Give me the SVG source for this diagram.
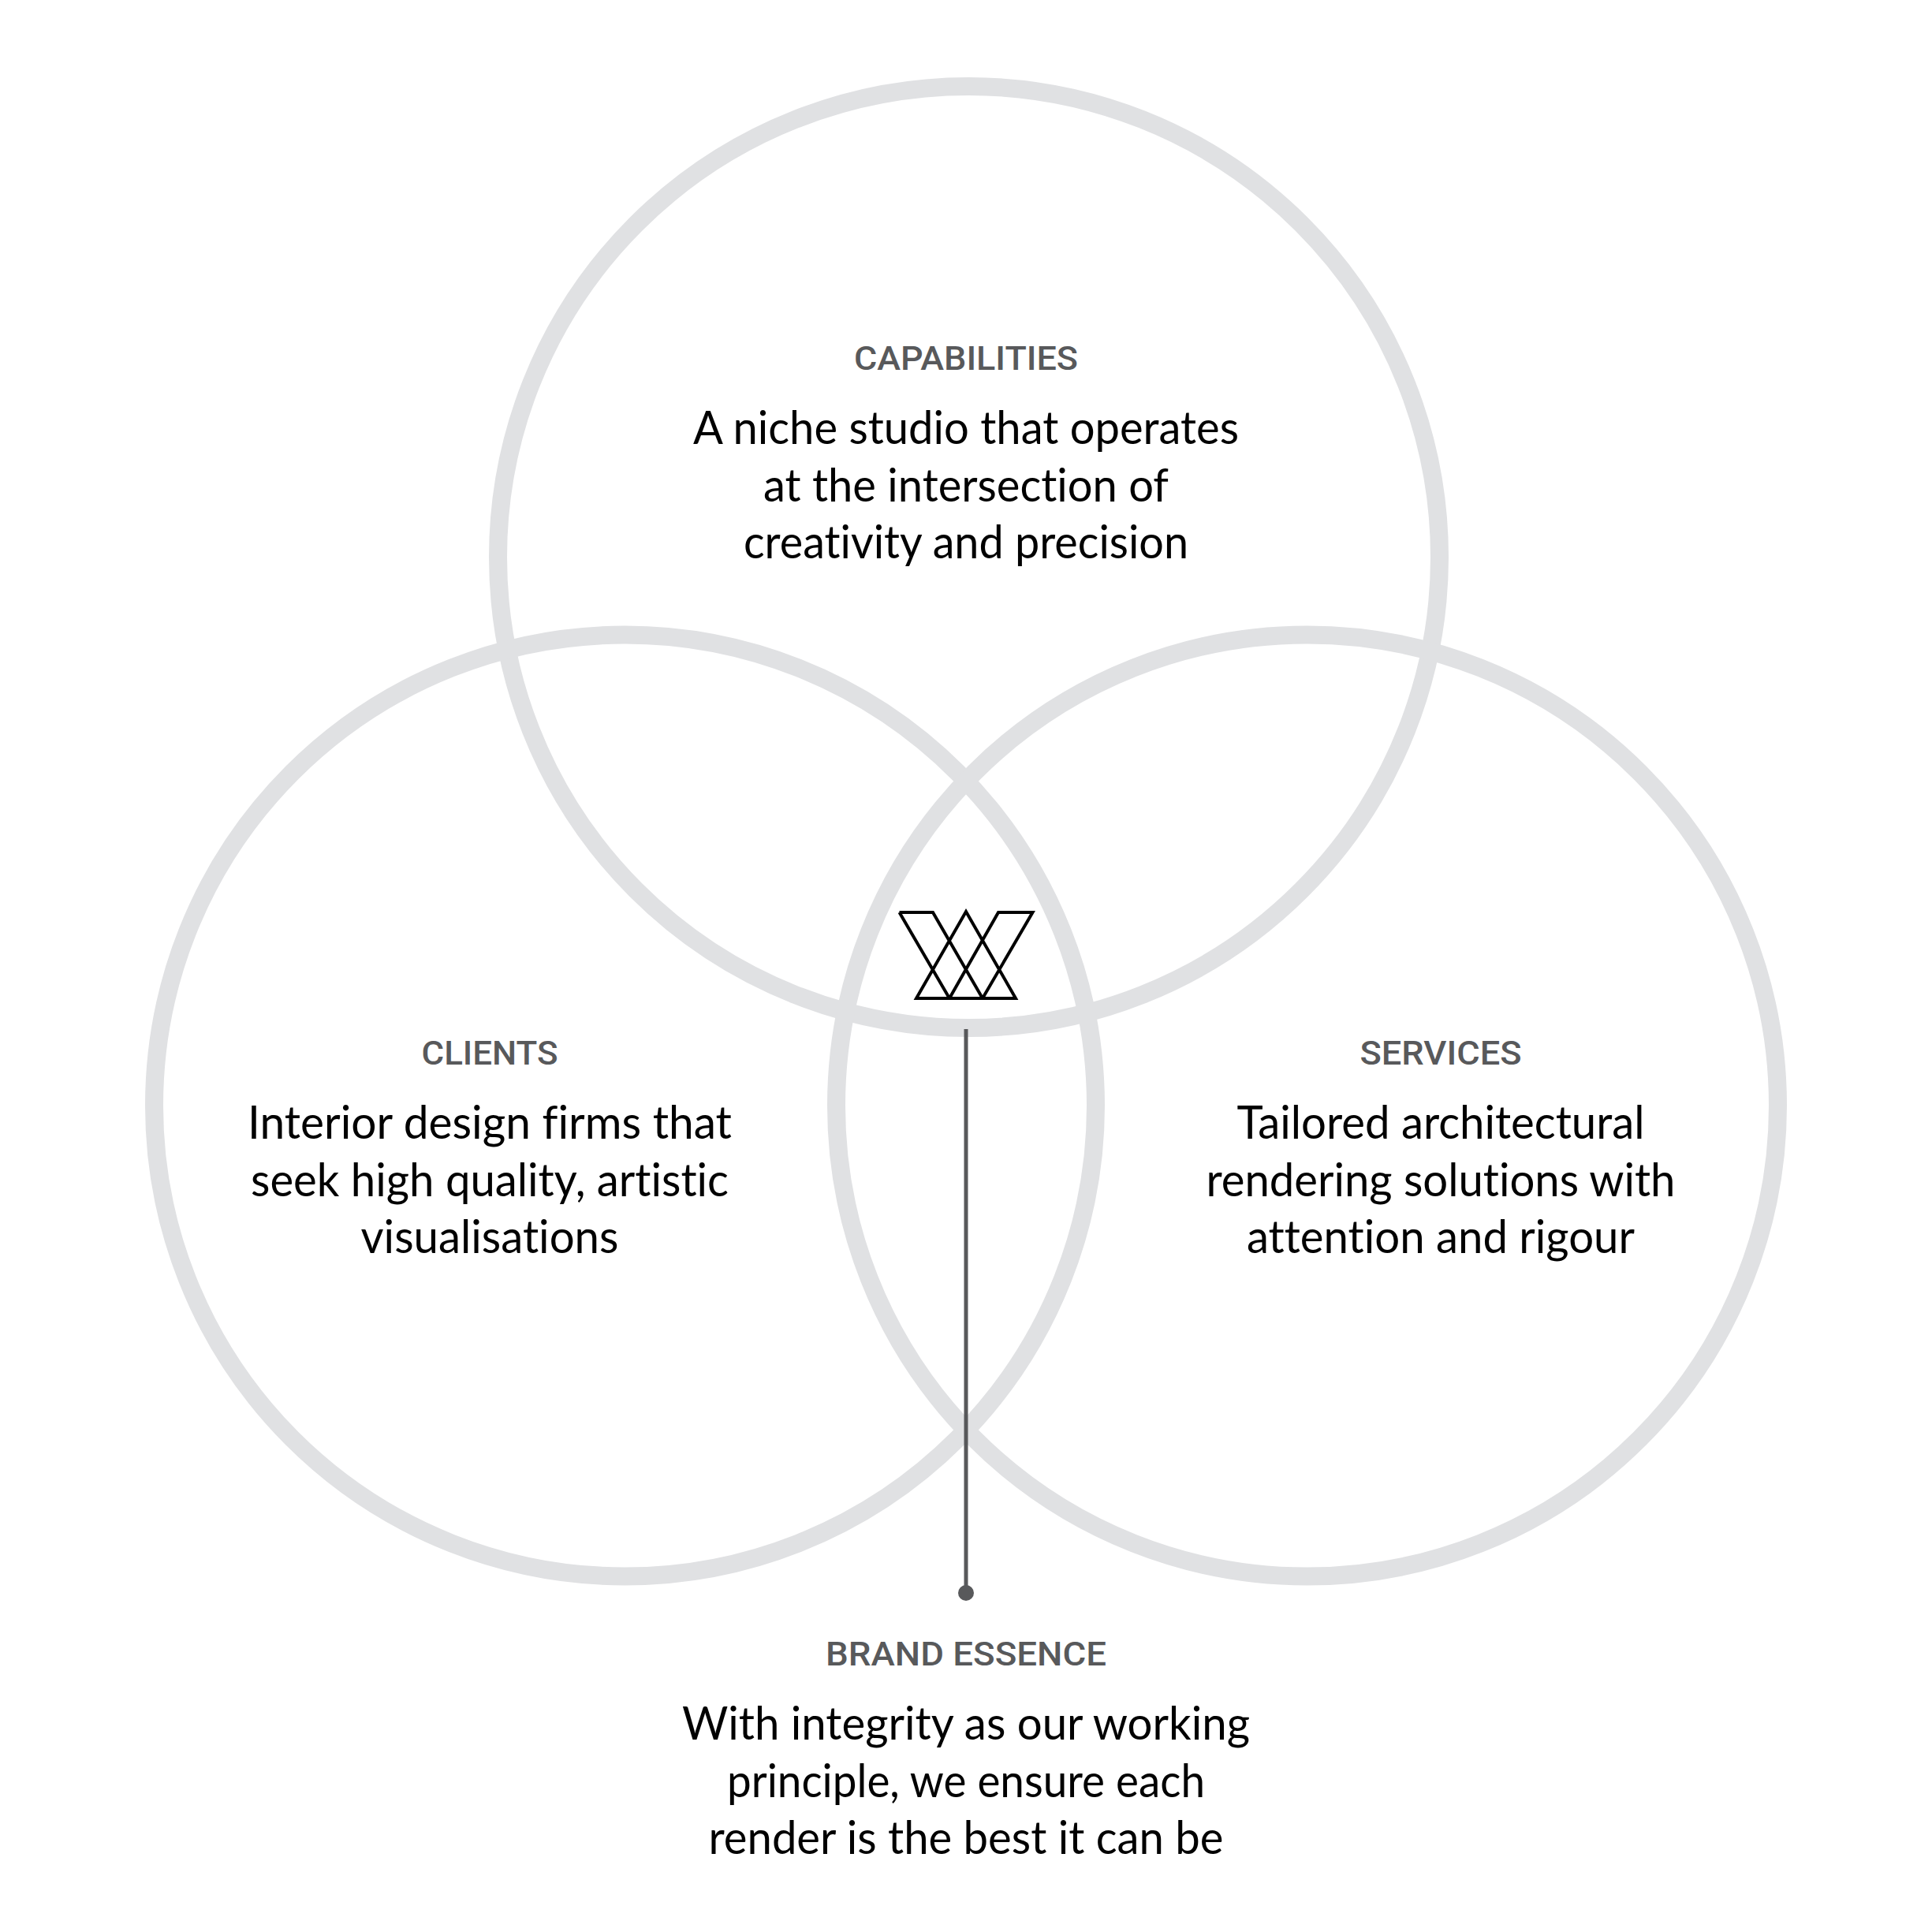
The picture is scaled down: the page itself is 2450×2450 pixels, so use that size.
<svg xmlns="http://www.w3.org/2000/svg" width="2450" height="2450" viewBox="0 0 2450 2450">
<style>
.ring{fill:none;stroke:#e0e1e3;stroke-width:23}
.label{font-family:"Roboto","Liberation Sans",sans-serif;font-weight:500;font-size:43px;fill:#58595b;text-anchor:middle}
.body{font-family:"Lato","Noto Sans",sans-serif;font-size:58px;fill:#000;text-anchor:middle;font-variant-ligatures:none}
.mark{fill:none;stroke:#000;stroke-width:4;stroke-linejoin:miter}
.conn{stroke:#58595b;stroke-width:5;fill:none}
</style>
<rect width="2450" height="2450" fill="#fff"/>
<g id="node-capabilities">
<circle class="ring" cx="1228.5" cy="706.5" r="597"/>
<text class="label" x="1225" y="468.5" textLength="284" lengthAdjust="spacingAndGlyphs">CAPABILITIES</text>
<text class="body" x="1225" y="563" textLength="692" lengthAdjust="spacingAndGlyphs">A niche studio that operates</text>
<text class="body" x="1225" y="636" textLength="514" lengthAdjust="spacingAndGlyphs">at the intersection of</text>
<text class="body" x="1225" y="708" textLength="564" lengthAdjust="spacingAndGlyphs">creativity and precision</text>
</g>
<g id="node-clients">
<circle class="ring" cx="792.5" cy="1402" r="597"/>
<text class="label" x="621" y="1350" textLength="173" lengthAdjust="spacingAndGlyphs">CLIENTS</text>
<text class="body" x="621" y="1444" textLength="614" lengthAdjust="spacingAndGlyphs">Interior design firms that</text>
<text class="body" x="621" y="1517" textLength="606" lengthAdjust="spacingAndGlyphs">seek high quality, artistic</text>
<text class="body" x="621" y="1589" textLength="327" lengthAdjust="spacingAndGlyphs">visualisations</text>
</g>
<g id="node-services">
<circle class="ring" cx="1657.5" cy="1402" r="597"/>
<text class="label" x="1827" y="1350" textLength="205" lengthAdjust="spacingAndGlyphs">SERVICES</text>
<text class="body" x="1827" y="1444" textLength="517" lengthAdjust="spacingAndGlyphs">Tailored architectural</text>
<text class="body" x="1827" y="1517" textLength="595" lengthAdjust="spacingAndGlyphs">rendering solutions with</text>
<text class="body" x="1827" y="1589" textLength="492" lengthAdjust="spacingAndGlyphs">attention and rigour</text>
</g>
<g id="node-logo">
<path class="mark" d="M1140.5 1157H1183L1246 1266H1162L1225 1156L1288 1266H1204L1266 1157H1309.5L1246 1266M1204 1266L1140.5 1157"/>
</g>
<g id="node-brand-essence">
<text class="label" x="1225" y="2112" textLength="356" lengthAdjust="spacingAndGlyphs">BRAND ESSENCE</text>
<text class="body" x="1225" y="2205.5" textLength="720" lengthAdjust="spacingAndGlyphs">With integrity as our working</text>
<text class="body" x="1225" y="2278.5" textLength="606" lengthAdjust="spacingAndGlyphs">principle, we ensure each</text>
<text class="body" x="1225" y="2350.5" textLength="653" lengthAdjust="spacingAndGlyphs">render is the best it can be</text>
</g>
<g id="connectors">
<line class="conn" x1="1225" y1="1305" x2="1225" y2="2020"/>
<circle cx="1225" cy="2020" r="10" fill="#58595b"/>
</g>
</svg>
